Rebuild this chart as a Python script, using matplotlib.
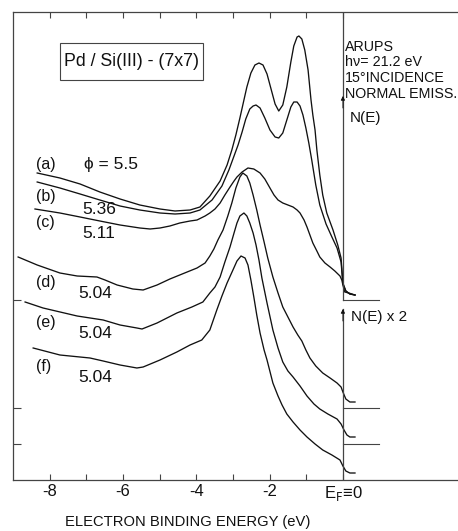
import matplotlib
matplotlib.use("Agg")
import matplotlib.pyplot as plt
from matplotlib.patches import Rectangle

plt.rcParams['font.family'] = ['Liberation Sans', 'DejaVu Sans']
plt.rcParams['axes.unicode_minus'] = False

# binding energy (eV) and N(E) in arbitrary units, curves stacked as printed
energy_a = [-8.34, -7.72, -7.17, -6.63, -6.08, -5.54, -4.99, -4.58, -4.17, -3.90,
            -3.63, -3.35, -3.16, -3.03, -2.92, -2.81, -2.70, -2.62, -2.51, -2.40,
            -2.29, -2.18, -2.07, -1.96, -1.85, -1.75, -1.64, -1.53, -1.42, -1.34,
            -1.25, -1.20, -1.12, -1.04, -0.95, -0.87, -0.82, -0.76, -0.71, -0.63,
            -0.55, -0.44, -0.27, -0.14, -0.05, 0.00, 0.08, 0.19, 0.33]
counts_a = [30.7, 30.2, 29.6, 28.8, 28.1, 27.5, 27.1, 26.9, 27.0, 27.3,
            28.4, 29.9, 31.5, 33.0, 34.5, 36.2, 38.0, 39.3, 40.7, 41.5,
            41.7, 41.5, 40.6, 39.1, 37.6, 36.9, 37.5, 39.3, 41.8, 43.4,
            44.3, 44.4, 44.1, 43.0, 41.0, 38.0, 36.5, 35.0, 33.0, 30.5,
            28.5, 26.7, 25.0, 23.5, 22.2, 19.7, 18.9, 18.6, 18.5]

energy_b = [-8.34, -7.72, -7.17, -6.63, -6.08, -5.54, -4.99, -4.58, -4.17, -3.90,
            -3.57, -3.30, -3.11, -2.97, -2.86, -2.75, -2.65, -2.54, -2.45, -2.37,
            -2.26, -2.13, -1.99, -1.85, -1.75, -1.64, -1.53, -1.42, -1.34, -1.25,
            -1.17, -1.09, -1.01, -0.93, -0.85, -0.74, -0.63, -0.46, -0.30, -0.16,
            -0.05, 0.00, 0.08, 0.19, 0.33]
counts_b = [29.8, 29.2, 28.6, 28.0, 27.4, 27.0, 26.7, 26.6, 26.7, 27.0,
            28.0, 29.4, 31.0, 32.4, 33.5, 34.8, 36.1, 37.1, 37.4, 37.5,
            37.2, 36.2, 35.0, 34.3, 34.2, 34.7, 36.0, 37.3, 37.8, 37.8,
            37.4, 36.5, 35.2, 33.7, 32.0, 29.5, 27.5, 25.6, 24.3, 23.2,
            21.8, 19.6, 18.9, 18.6, 18.5]

energy_c = [-8.40, -7.72, -7.17, -6.63, -6.08, -5.54, -5.26, -4.99, -4.72, -4.45,
            -4.17, -3.98, -3.76, -3.63, -3.49, -3.35, -3.22, -3.08, -2.97, -2.89,
            -2.75, -2.59, -2.43, -2.26, -2.13, -1.99, -1.88, -1.77, -1.64, -1.50,
            -1.36, -1.25, -1.17, -1.06, -0.98, -0.90, -0.82, -0.71, -0.63, -0.49,
            -0.35, -0.22, -0.08, -0.03, 0.00, 0.05, 0.16, 0.33]
counts_c = [27.1, 26.7, 26.3, 25.9, 25.5, 25.2, 25.1, 25.2, 25.4, 25.7,
            25.9, 26.0, 26.4, 26.7, 27.1, 27.7, 28.5, 29.3, 29.9, 30.3,
            30.8, 31.2, 31.1, 30.7, 30.1, 29.2, 28.5, 28.0, 27.7, 27.5,
            27.3, 27.0, 26.7, 26.0, 25.3, 24.5, 23.7, 22.9, 22.3, 21.7,
            21.3, 20.9, 20.4, 20.0, 19.5, 18.8, 18.7, 18.5]

energy_d = [-8.86, -8.34, -7.72, -7.25, -6.71, -6.49, -6.16, -5.73, -5.45, -5.07,
            -4.72, -4.25, -3.98, -3.76, -3.63, -3.52, -3.41, -3.27, -3.14, -3.03,
            -2.92, -2.81, -2.73, -2.62, -2.54, -2.45, -2.35, -2.26, -2.15, -2.05,
            -1.91, -1.77, -1.64, -1.50, -1.36, -1.23, -1.12, -1.01, -0.90, -0.74,
            -0.55, -0.35, -0.16, -0.05, 0.00, 0.08, 0.19, 0.33]
counts_d = [22.3, 21.5, 20.7, 20.4, 20.3, 20.0, 19.5, 19.1, 19.0, 19.5,
            20.1, 20.8, 21.2, 21.7, 22.4, 23.1, 24.0, 25.0, 26.4, 27.7,
            29.2, 30.3, 30.7, 30.4, 29.7, 28.5, 27.0, 25.5, 23.8, 22.2,
            20.3, 18.7, 17.3, 16.3, 15.3, 14.5, 13.9, 13.0, 12.2, 11.4,
            10.7, 10.2, 9.7, 9.3, 8.8, 8.1, 7.8, 7.8]

energy_e = [-8.67, -8.18, -7.25, -6.54, -6.08, -5.62, -5.48, -5.07, -4.53, -4.12,
            -3.82, -3.63, -3.49, -3.35, -3.22, -3.08, -2.97, -2.89, -2.81, -2.70,
            -2.62, -2.54, -2.45, -2.37, -2.29, -2.21, -2.07, -1.91, -1.77, -1.64,
            -1.50, -1.36, -1.17, -0.98, -0.79, -0.63, -0.41, -0.16, -0.05, 0.03,
            0.11, 0.19, 0.33]
counts_e = [17.8, 17.2, 16.4, 16.0, 15.5, 15.2, 15.1, 15.7, 16.7, 17.3,
            17.8, 18.7, 19.3, 20.3, 21.8, 23.3, 24.7, 25.7, 26.4, 26.7,
            26.4, 25.7, 24.7, 23.5, 22.0, 20.2, 17.7, 15.0, 13.2, 11.8,
            10.9, 10.3, 9.4, 8.4, 7.6, 7.1, 6.6, 6.1, 5.6, 5.0,
            4.5, 4.3, 4.3]

energy_f = [-8.45, -7.72, -6.90, -6.54, -6.08, -5.62, -5.45, -4.99, -4.53, -4.17,
            -3.85, -3.63, -3.44, -3.30, -3.16, -3.00, -2.89, -2.78, -2.67, -2.59,
            -2.51, -2.43, -2.35, -2.26, -2.15, -2.07, -1.91, -1.77, -1.66, -1.53,
            -1.36, -1.17, -0.98, -0.76, -0.55, -0.30, -0.08, 0.00, 0.08, 0.19,
            0.33]
counts_f = [13.2, 12.5, 12.2, 11.9, 11.5, 11.2, 11.3, 12.0, 12.8, 13.5,
            14.0, 15.0, 17.0, 18.4, 19.7, 21.0, 21.9, 22.4, 22.2, 21.5,
            20.0, 18.3, 16.5, 14.7, 13.0, 12.0, 9.7, 8.4, 7.5, 6.6,
            5.8, 5.0, 4.3, 3.6, 3.0, 2.5, 2.0, 1.4, 0.9, 0.7,
            0.7]

curve_labels = ['(a)', '(b)', '(c)', '(d)', '(e)', '(f)']
label_levels = [31.6, 28.3, 25.8, 19.8, 15.7, 11.4]
work_functions = ['ϕ = 5.5', '5.36', '5.11', '5.04', '5.04', '5.04']
phi_levels = [31.6, 27.0, 24.7, 18.7, 14.7, 10.3]

baselines = [18.0, 7.2, 3.6]
xtick_pos = [-8, -6, -4, -2, 0]
xtick_text = ['-8', '-6', '-4', '-2', 'E$_\\mathrm{F}$≡0']
info_lines = ['ARUPS', 'hν= 21.2 eV', '15°INCIDENCE', 'NORMAL EMISS.']
info_levels = [43.3, 41.8, 40.2, 38.6]

ink = '#111111'
frame = '#444444'

fig = plt.figure(figsize=(4.58, 5.31), dpi=100)
ax = fig.add_axes([13 / 458, 51 / 531, 445 / 458, 468 / 531])
ax.set_xlim(-9.0, 3.14)
ax.set_ylim(0, 46.8)

for e, c in [(energy_a, counts_a), (energy_b, counts_b), (energy_c, counts_c),
             (energy_d, counts_d), (energy_e, counts_e), (energy_f, counts_f)]:
    ax.plot(e, c, color=ink, lw=0.95, solid_joinstyle='round')

# zero lines of the stacked spectra and the E_F axis
for b in baselines:
    ax.plot([0, 0.98], [b, b], color=frame, lw=0.8)
ax.plot([0, 0], [18.0, 46.8], color=frame, lw=0.9)
ax.plot([0, 0], [0, 17.1], color=frame, lw=0.9)
for tip in [38.4, 17.1]:
    ax.annotate('', xy=(0, tip), xytext=(0, tip - 1.2),
                arrowprops=dict(arrowstyle='-|>', color=ink, lw=0.6,
                                mutation_scale=6, shrinkA=0, shrinkB=0))

for lab, y in zip(curve_labels, label_levels):
    ax.text(-8.38, y, lab, fontsize=11.5, va='center', ha='left', color=ink)
for i, (txt, y) in enumerate(zip(work_functions, phi_levels)):
    x0 = -7.05 if i == 0 else (-7.12 if i < 3 else -7.23)
    ax.text(x0, y, txt, fontsize=12.5, va='center', ha='left', color=ink)

for txt, y in zip(info_lines, info_levels):
    ax.text(0.05, y, txt, fontsize=10.3, va='center', ha='left', color=ink)
ax.text(0.19, 36.2, 'N(E)', fontsize=11, va='center', ha='left', color=ink)
ax.text(0.22, 16.3, 'N(E) x 2', fontsize=11, va='center', ha='left', color=ink)

ax.add_patch(Rectangle((-7.72, 40.0), 3.9, 3.7, fill=False, ec=frame, lw=0.8))
ax.text(-5.77, 41.85, 'Pd / Si(III) - (7x7)', fontsize=12.8, va='center',
        ha='center', color=ink)

ax.spines['right'].set_visible(False)
for s in ['top', 'bottom', 'left']:
    ax.spines[s].set_color(frame)
    ax.spines[s].set_linewidth(0.9)
ax.set_xticks(xtick_pos)
ax.set_xticklabels(xtick_text, fontsize=12)
ax.set_xticks([-7, -5, -3, -1], minor=True)
ax.tick_params(axis='x', which='both', direction='in', top=True, length=4,
               width=0.8, color=frame, pad=3, labelcolor=ink)
ax.set_yticks(baselines)
ax.set_yticklabels([])
ax.tick_params(axis='y', direction='in', length=6, width=0.8, color=frame)

fig.text(188 / 458, 1 - 522 / 531, 'ELECTRON BINDING ENERGY (eV)', fontsize=10.6,
         ha='center', va='center', color=ink)

fig.savefig('out.png', dpi=100)
